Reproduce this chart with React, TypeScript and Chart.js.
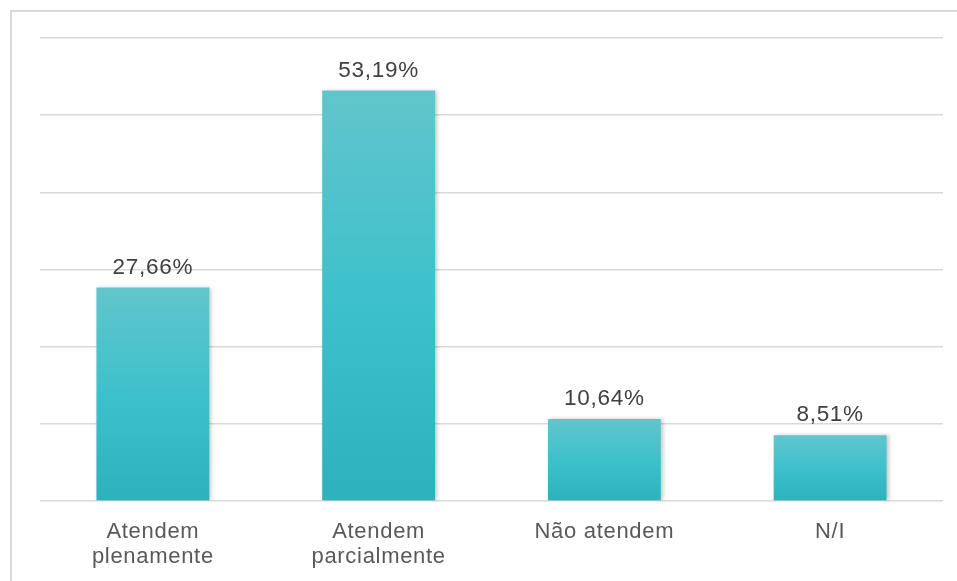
import React, { useEffect, useRef } from "react";
import { Chart, registerables } from "chart.js";

Chart.register(...registerables);

const categories: (string | string[])[] = [
  ["Atendem", "plenamente"],
  ["Atendem", "parcialmente"],
  "Não atendem",
  "N/I",
];
const values: number[] = [27.66, 53.19, 10.64, 8.51];
const valueLabels: string[] = ["27,66%", "53,19%", "10,64%", "8,51%"];

const FONT = "'Liberation Sans', Arial, sans-serif";

export default function App() {
  const ref = useRef<HTMLCanvasElement | null>(null);

  useEffect(() => {
    if (!ref.current) return;

    const spacingPlugin = {
      id: "letterSpacing",
      beforeDraw(chart: any) {
        (chart.ctx as any).letterSpacing = "0.7px";
      },
    };

    const shadowPlugin = {
      id: "barShadow",
      beforeDatasetsDraw(chart: any) {
        const ctx = chart.ctx;
        ctx.save();
        ctx.shadowColor = "rgba(0,0,0,0.22)";
        ctx.shadowBlur = 4;
        ctx.shadowOffsetX = 2;
        ctx.shadowOffsetY = 0;
      },
      afterDatasetsDraw(chart: any) {
        chart.ctx.restore();
      },
    };

    const labelPlugin = {
      id: "valueLabels",
      afterDatasetsDraw(chart: any) {
        const ctx = chart.ctx;
        const meta = chart.getDatasetMeta(0);
        ctx.save();
        (ctx as any).letterSpacing = "0.7px";
        ctx.font = `22.5px ${FONT}`;
        ctx.fillStyle = "#404040";
        ctx.textAlign = "center";
        ctx.textBaseline = "bottom";
        meta.data.forEach((bar: any, i: number) => {
          ctx.fillText(valueLabels[i], bar.x, bar.y - 9);
        });
        ctx.restore();
      },
    };

    const chart = new Chart(ref.current, {
      type: "bar",
      data: {
        labels: categories,
        datasets: [
          {
            data: values,
            barPercentage: 0.5,
            categoryPercentage: 1,
            borderWidth: 0,
            backgroundColor: (c: any) => {
              const chartObj = c.chart;
              const ys = chartObj.scales && chartObj.scales.y;
              if (!ys || c.raw === undefined) return "#3cc0cb";
              const top = ys.getPixelForValue(c.raw);
              const bottom = ys.getPixelForValue(0);
              if (!isFinite(top) || !isFinite(bottom) || top === bottom) return "#3cc0cb";
              const g = chartObj.ctx.createLinearGradient(0, top, 0, bottom);
              g.addColorStop(0, "#62c5cc");
              g.addColorStop(0.5, "#3dc1cb");
              g.addColorStop(1, "#2db1bd");
              return g;
            },
          },
        ],
      },
      options: {
        animation: false,
        responsive: false,
        maintainAspectRatio: false,
        layout: { padding: { left: 40, top: 38, right: 14, bottom: 0 } },
        plugins: {
          legend: { display: false },
          tooltip: { enabled: false },
        },
        scales: {
          x: {
            grid: { display: false },
            border: { display: false },
            ticks: {
              color: "#595959",
              font: { family: FONT, size: 22, lineHeight: 1.14 },
              padding: 10,
              maxRotation: 0,
              autoSkip: false,
            },
            afterFit(scale: any) {
              scale.height = 80;
            },
          },
          y: {
            min: 0,
            max: 60,
            ticks: { display: false, stepSize: 10 },
            border: { display: false },
            grid: { color: "#d9d9d9", lineWidth: 1.5, drawTicks: false },
            afterFit(scale: any) {
              scale.width = 0;
            },
          },
        },
      },
      plugins: [spacingPlugin, shadowPlugin, labelPlugin],
    });

    return () => chart.destroy();
  }, []);

  return (
    <div
      style={{
        position: "fixed",
        left: 0,
        top: 0,
        width: 957,
        height: 581,
        background: "#ffffff",
        overflow: "hidden",
      }}
    >
      <div
        style={{
          position: "absolute",
          left: 10,
          top: 10,
          width: 1000,
          height: 700,
          borderTop: "2px solid #d9d9d9",
          borderLeft: "2px solid #d9d9d9",
          boxSizing: "border-box",
        }}
      />
      <canvas
        ref={ref}
        width={957}
        height={581}
        style={{ position: "absolute", left: 0, top: 0, width: 957, height: 581 }}
      />
    </div>
  );
}
